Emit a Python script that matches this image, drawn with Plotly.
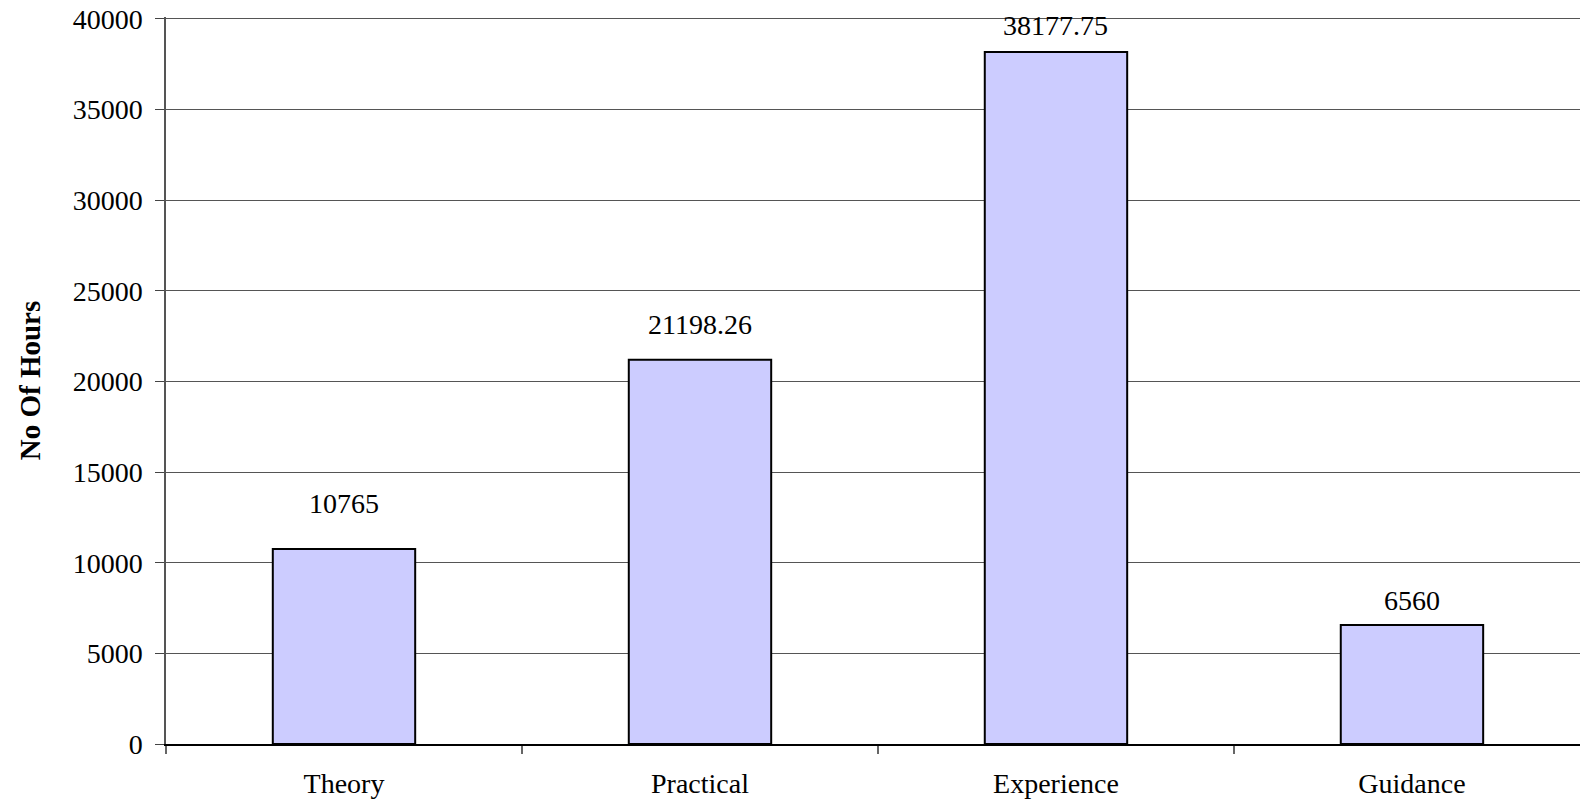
import plotly.graph_objects as go

categories = ["Theory", "Practical", "Experience", "Guidance"]
hours = [10765, 21198.26, 38177.75, 6560]
labels = ["10765", "21198.26", "38177.75", "6560"]
y_ticks = [0, 5000, 10000, 15000, 20000, 25000, 30000, 35000, 40000]

# pixel gap between each bar top and its value label (styling only)
label_gaps = [45, 35, 27, 25]

font_family = "Liberation Serif, Times New Roman, serif"

fig = go.Figure()
fig.add_trace(go.Bar(
    x=categories, y=hours, width=0.4,
    marker=dict(color="#CCCCFF", line=dict(color="black", width=2)),
    hoverinfo="x+y",
))

for c, v, t, g in zip(categories, hours, labels, label_gaps):
    fig.add_annotation(x=c, y=v, text=t, showarrow=False, yshift=g,
                       font=dict(family=font_family, size=28, color="black"))

fig.update_layout(
    width=1580, height=799,
    margin=dict(l=166, r=0, t=17, b=55),
    paper_bgcolor="white", plot_bgcolor="white",
    showlegend=False,
    font=dict(family=font_family, size=28, color="black"),
    xaxis=dict(
        type="category", categoryorder="array", categoryarray=categories,
        range=[-0.5, 3.472],
        tickson="boundaries", ticks="outside", ticklen=8,
        tickcolor="#666", tickwidth=1.5, showgrid=False,
        showline=True, linecolor="black", linewidth=2,
        tickfont=dict(family=font_family, size=28), ticklabelstandoff=13,
    ),
    yaxis=dict(
        range=[0, 40110], tickvals=y_ticks, tickformat="d",
        ticks="outside", ticklen=9, tickcolor="#444",
        showgrid=True, gridcolor="#555", gridwidth=1,
        showline=True, linecolor="#555", linewidth=1.5,
        zeroline=False,
        tickfont=dict(family=font_family, size=28), ticklabelstandoff=7,
        title=dict(text="<b>No Of Hours</b>", standoff=24,
                   font=dict(family=font_family, size=29)),
    ),
)

post = (
    "document.documentElement.style.overflow='hidden';"
    "document.body.style.margin='0';"
    "document.body.style.overflow='hidden';"
)

fig.write_html(
    "out.html",
    config={"displayModeBar": False},
    post_script=post,
)
